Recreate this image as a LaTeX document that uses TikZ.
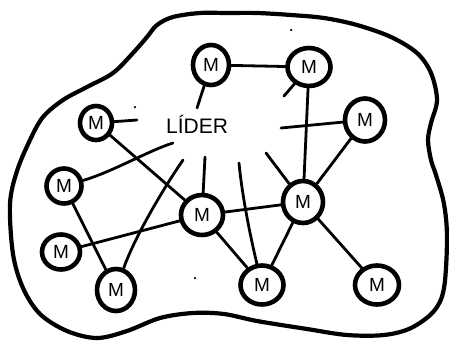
\documentclass[tikz,border=0pt]{standalone}
\usepackage{fontspec}
\setmainfont{Liberation Sans}
\usetikzlibrary{shapes.geometric}
\begin{document}
\begin{tikzpicture}[x=1pt,y=-1pt,
  member/.style={draw, ellipse, line width=4.6pt, inner sep=0pt,
    font=\fontsize{19}{19}\selectfont},
  tie/.style={line width=2.8pt, line cap=round},
  rim/.style={line width=4.2pt, line join=round},
  speck/.style={fill, inner sep=0pt, minimum size=2.5pt, circle}]
\useasboundingbox (0,0) rectangle (449,343);

% group boundary
\draw[rim] plot[smooth cycle, tension=0.55] coordinates {
  (227,13) (257,13) (291,15) (324,18) (357,25) (391,37) (417,53) (431,73)
  (437,100) (431,123) (428,140) (431,160) (436,175) (444,204) (447,238)
  (444,288) (434,311) (411,328) (384,335) (347,335) (307,329) (257,321)
  (224,314) (193,313) (160,318) (127,331) (97,338) (67,331) (40,314)
  (23,288) (13,254) (10,204) (17,171) (30,140) (43,117) (63,100) (87,87)
  (113,73) (133,53) (147,37) (157,25) (173,17) (200,13)};

% members
\node[member, minimum width=36pt, minimum height=40pt] (m1) at (211,65) {M};
\node[member, minimum width=43pt, minimum height=38pt] (m2) at (309,67) {M};
\node[member, minimum width=40pt, minimum height=43pt] (m3) at (365,120) {M};
\node[member, minimum width=32pt, minimum height=34pt] (m4) at (96,123) {M};
\node[member, minimum width=35pt, minimum height=35pt] (m5) at (64,186) {M};
\node[member, minimum width=42pt, minimum height=40pt] (m6) at (202,215) {M};
\node[member, minimum width=40pt, minimum height=42pt] (m7) at (303,202) {M};
\node[member, minimum width=38pt, minimum height=35pt] (m8) at (61,252) {M};
\node[member, minimum width=38pt, minimum height=42pt] (m9) at (116,290) {M};
\node[member, minimum width=43pt, minimum height=39pt] (m10) at (262,285) {M};
\node[member, minimum width=44pt, minimum height=39pt] (m11) at (377,285) {M};

% leader
\node[anchor=base, inner sep=0pt, font=\fontsize{21}{21}\selectfont] (lider) at (197,133) {LÍDER};

% free ends of the lines around the leader
\coordinate (c1) at (197,108);
\coordinate (c2) at (284,96);
\coordinate (c3) at (281,128);
\coordinate (c4) at (266,153);
\coordinate (c5) at (137,120);
\coordinate (c6) at (173,143);
\coordinate (c7) at (183,160);
\coordinate (c8) at (205,157);
\coordinate (c9) at (239,163);

% ties
\draw[tie] (m1) -- (c1);
\draw[tie] (m1) -- (m2);
\draw[tie] (c2) -- (m2);
\draw[tie] (m2) -- (m7);
\draw[tie] (c3) -- (m3);
\draw[tie] (m3) -- (m7);
\draw[tie] (c4) -- (m7);
\draw[tie] (m4) -- (c5);
\draw[tie] (m4) -- (m6);
\draw[tie] (c6) .. controls (150,150) and (112,172) .. (m5);
\draw[tie] (c7) .. controls (165,186) and (135,236) .. (m9);
\draw[tie] (c8) -- (m6);
\draw[tie] (c9) .. controls (242,195) and (250,235) .. (m10);
\draw[tie] (m5) -- (m9);
\draw[tie] (m8) -- (m6);
\draw[tie] (m6) -- (m7);
\draw[tie] (m6) -- (m10);
\draw[tie] (m7) -- (m10);
\draw[tie] (m7) -- (m11);

% specks
\node[speck] (s1) at (135,107) {};
\node[speck] (s2) at (291,30) {};
\node[speck] (s3) at (195,278) {};
\end{tikzpicture}
\end{document}
